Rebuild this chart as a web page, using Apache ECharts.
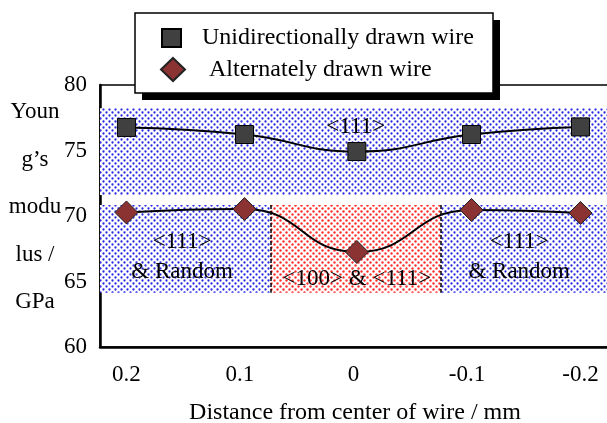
<!DOCTYPE html>
<html>
<head>
<meta charset="utf-8">
<script src="https://cdn.jsdelivr.net/npm/echarts@6/dist/echarts.min.js"></script>
<style>
html,body{margin:0;padding:0;background:#fff;}
#chart{width:607px;height:423px;}
</style>
</head>
<body>
<div id="chart"></div>
<script>
// ---- data ----
const seriesNames = ['Unidirectionally drawn wire', 'Alternately drawn wire'];
const xPositions = [0.2, 0.096, -0.003, -0.104, -0.2];      // distance from center (mm)
const uniValues = [76.76, 76.22, 74.92, 76.22, 76.8];        // GPa
const altValues = [70.27, 70.53, 67.25, 70.46, 70.23];       // GPa
const xTickLabels = [0.2, 0.1, 0, -0.1, -0.2];
const yTickValues = [60, 65, 70, 75, 80];
const upperBand = [78.23, 71.6];
const lowerBand = [70.84, 64.15];
const redRange = [0.073, -0.077];
const xRange = [-0.226, 0.2233];
const regionTexts = ['<111>', '<111>', '& Random', '<111>', '& Random', '<100> & <111>'];
const regionX = [-0.002, 0.151, 0.151, -0.146, -0.146, -0.003];
const regionY = [76.8, 68.0, 65.7, 68.0, 65.7, 65.2];
const yTitleLines = ['Youn', 'g\u2019s', 'modu', 'lus /', 'GPa'];
const xTitle = 'Distance from center of wire / mm';

// ---- dotted patterns ----
function dotPattern(color, r) {
  const c = document.createElement('canvas');
  c.width = 6; c.height = 6;
  const ctx = c.getContext('2d');
  ctx.fillStyle = '#ffffff';
  ctx.fillRect(0, 0, 6, 6);
  ctx.fillStyle = color;
  ctx.beginPath(); ctx.arc(1.5, 1.5, r, 0, Math.PI * 2); ctx.fill();
  ctx.beginPath(); ctx.arc(4.5, 4.5, r, 0, Math.PI * 2); ctx.fill();
  return { image: c, repeat: 'repeat' };
}
const bluePat = dotPattern('rgb(40,40,225)', 1.15);
const redPat = dotPattern('rgb(255,50,50)', 1.2);

const FONT = 'Liberation Serif';
const chart = echarts.init(document.getElementById('chart'), null, { renderer: 'canvas' });

const pts = (ys) => xPositions.map((x, i) => [x, ys[i]]);

const option = {
  animation: false,
  backgroundColor: '#ffffff',
  grid: { left: 100, right: -3, top: 85, bottom: 76, outerBoundsMode: 'none', containLabel: false, show: true, borderColor: '#000', borderWidth: 1.5, backgroundColor: 'transparent' },
  xAxis: {
    type: 'value', inverse: true, min: xRange[0], max: xRange[1],
    axisLine: { show: true, onZero: false, lineStyle: { color: '#000', width: 2.5 } },
    axisTick: { show: false },
    splitLine: { show: false },
    axisLabel: { customValues: xTickLabels, formatter: v => String(v), color: '#000', fontSize: 23, fontFamily: FONT, margin: 16 },
    name: xTitle, nameLocation: 'middle', nameGap: 54,
    nameTextStyle: { color: '#000', fontSize: 24, fontFamily: FONT }
  },
  yAxis: {
    type: 'value', min: 60, max: 80, interval: 5,
    axisLine: { show: true, onZero: false, lineStyle: { color: '#000', width: 2.5 } },
    axisTick: { show: false },
    splitLine: { show: false },
    axisLabel: { customValues: yTickValues, color: '#000', fontSize: 23, fontFamily: FONT, margin: 13 }
  },
  legend: [
    {
      data: [{ name: seriesNames[0], icon: 'rect' }],
      left: 161, top: 26, padding: 0, itemWidth: 19, itemHeight: 18, z: 20,
      textStyle: { color: '#000', fontSize: 24, fontFamily: FONT, padding: [0, 0, 0, 16] }
    },
    {
      data: [{ name: seriesNames[1], icon: 'diamond' }],
      left: 160, top: 57, padding: 0, itemWidth: 24, itemHeight: 23, z: 20,
      textStyle: { color: '#000', fontSize: 24, fontFamily: FONT, padding: [0, 0, 0, 19] }
    }
  ],
  graphic: [
    { type: 'rect', z: 10, shape: { x: 142, y: 20, width: 358, height: 80 }, style: { fill: '#000' } },
    { type: 'rect', z: 11, shape: { x: 135, y: 13, width: 358, height: 80 }, style: { fill: '#fff', stroke: '#000', lineWidth: 1.5 } },
    { type: 'text', z: 11, style: { text: yTitleLines.join('\n'), x: 35, y: 207, align: 'center', verticalAlign: 'middle', font: '23px "Liberation Serif"', lineHeight: 47.5, fill: '#000' } }
  ],
  series: [
    {
      name: seriesNames[0], type: 'line', smooth: true, z: 5,
      data: pts(uniValues),
      symbol: 'rect', symbolSize: 18,
      itemStyle: { color: '#404040', borderColor: '#000', borderWidth: 1 },
      lineStyle: { color: '#000', width: 2 },
      markArea: {
        silent: true,
        data: [
          [{ xAxis: xRange[1], yAxis: upperBand[0], itemStyle: { color: bluePat } }, { xAxis: xRange[0], yAxis: upperBand[1] }],
          [{ xAxis: xRange[1], yAxis: lowerBand[0], itemStyle: { color: bluePat } }, { xAxis: redRange[0], yAxis: lowerBand[1] }],
          [{ xAxis: redRange[0], yAxis: lowerBand[0], itemStyle: { color: redPat } }, { xAxis: redRange[1], yAxis: lowerBand[1] }],
          [{ xAxis: redRange[1], yAxis: lowerBand[0], itemStyle: { color: bluePat } }, { xAxis: xRange[0], yAxis: lowerBand[1] }]
        ]
      },
      markLine: {
        silent: true, symbol: ['none', 'none'],
        label: { show: false },
        lineStyle: { color: '#000', width: 1.5, type: [4, 2] },
        data: redRange.map(x => [{ coord: [x, lowerBand[0]] }, { coord: [x, lowerBand[1]] }])
      },
      markPoint: {
        silent: true, symbol: 'circle', symbolSize: 0,
        label: { show: true, position: 'inside', formatter: '{b}', color: '#000', fontSize: 23, fontFamily: FONT },
        data: regionTexts.map((t, i) => ({ name: t, coord: [regionX[i], regionY[i]] }))
      }
    },
    {
      name: seriesNames[1], type: 'line', smooth: true, z: 5,
      data: pts(altValues),
      symbol: 'diamond', symbolSize: 23,
      itemStyle: { color: '#8b3333', borderColor: '#222', borderWidth: 1 },
      lineStyle: { color: '#000', width: 2 }
    }
  ]
};
chart.setOption(option);
</script>
</body>
</html>
